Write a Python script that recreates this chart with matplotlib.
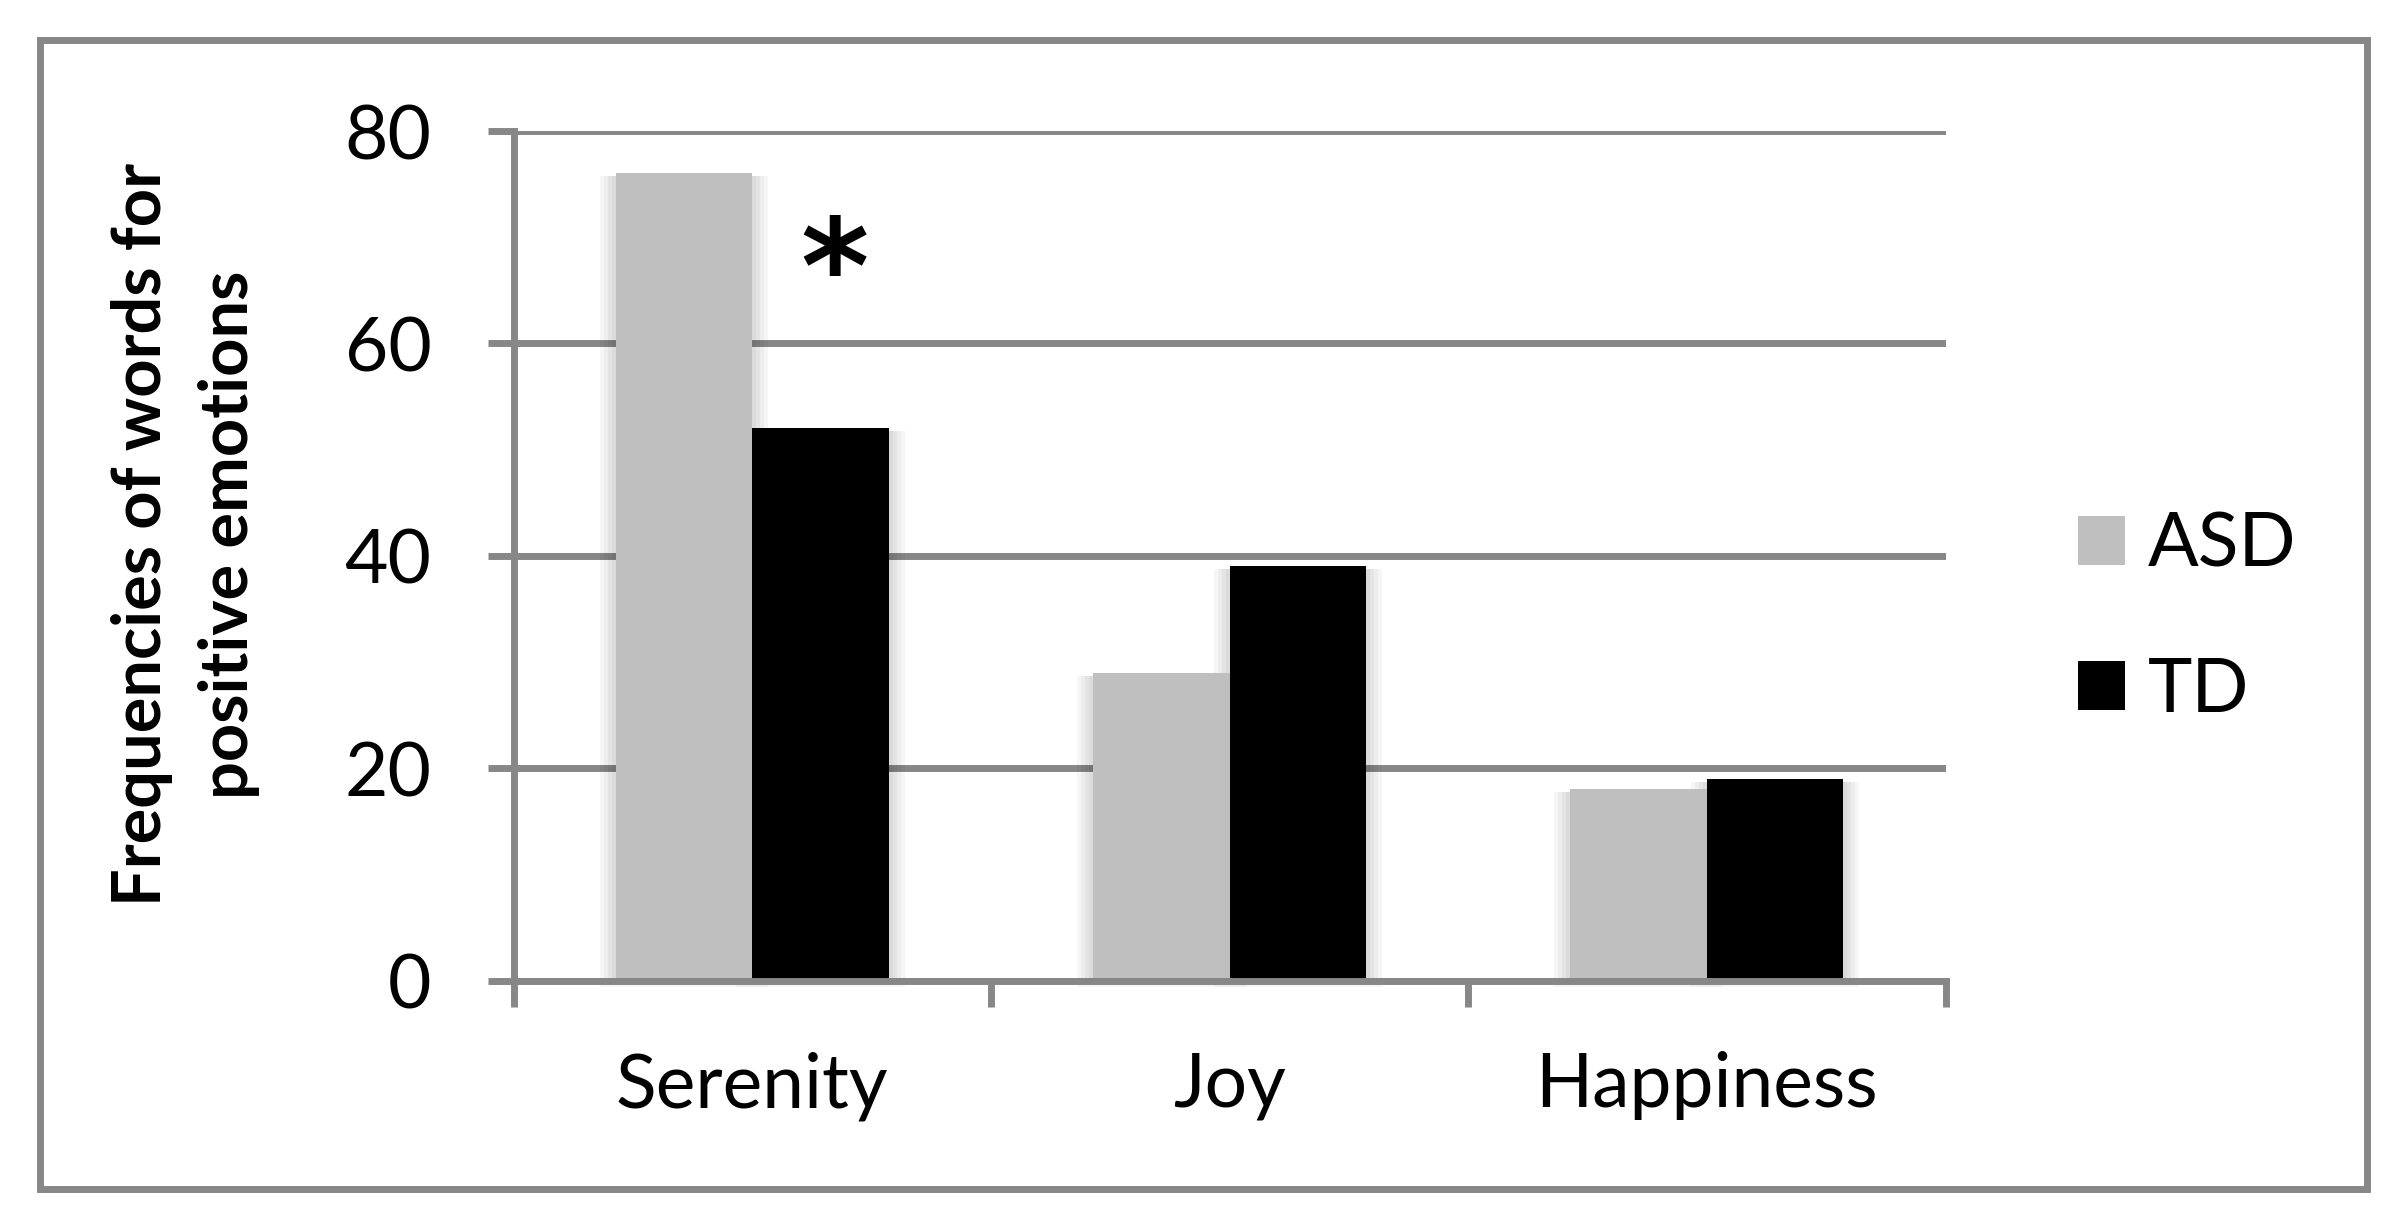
import matplotlib
matplotlib.use("Agg")
import matplotlib.pyplot as plt
from matplotlib.patches import Rectangle
import numpy as np

categories = ["Serenity", "Joy", "Happiness"]
series_names = ["ASD", "TD"]
asd_values = [76, 29, 18]
td_values = [52, 39, 19]
y_ticks = [0, 20, 40, 60, 80]
ylabel_text = "Frequencies of words for\npositive emotions"
star_text = "*"

W, H = 2406, 1222
DPI = 100
fig = plt.figure(figsize=(W / DPI, H / DPI), dpi=DPI)
fig.patch.set_facecolor("white")

GREY = "#878787"
LW = 5.0

# axes placement (pixels -> fractions)
x0, x1 = 513.5, 1945.5
y_top, y_zero = 131.0, 980.5
ax = fig.add_axes([x0 / W, 1 - y_zero / H, (x1 - x0) / W, (y_zero - y_top) / H])

x = np.arange(len(categories))
bw = 1 / 3.5  # Excel gap width 150%
colors = ["#BFBFBF", "#000000"]
offsets = [-bw / 2, bw / 2]

# soft shadows behind bars
px_x = 3.0 / (x1 - x0)   # one pixel in category units
px_y = 80.0 / (y_zero - y_top)
for vals, off in zip([asd_values, td_values], offsets):
    for k in range(1, 5):
        ax.bar(x + off, np.array(vals) - 3 * px_y + k * 1.5 * px_y,
               width=bw + 2 * k * 4 * px_x, bottom=-k * 1.5 * px_y,
               color="black", alpha=0.035, linewidth=0, zorder=2, clip_on=False)

bars = []
for vals, off, c, name in zip([asd_values, td_values], offsets, colors, series_names):
    b = ax.bar(x + off, vals, width=bw, color=c, linewidth=0, zorder=3, label=name)
    bars.append(b)

ax.set_xlim(-0.5, len(categories) - 0.5)
ax.set_ylim(0, 80)
ax.set_yticks(y_ticks)
ax.set_yticklabels([str(v) for v in y_ticks])

ax.set_xticks(np.arange(-0.5, len(categories)), minor=False)
ax.set_xticklabels([])
ax.set_xticks(x, minor=True)
ax.set_xticklabels(categories, minor=True)

for s in ["top", "right"]:
    ax.spines[s].set_visible(False)
for s in ["left", "bottom"]:
    ax.spines[s].set_color(GREY)
    ax.spines[s].set_linewidth(LW)
    ax.spines[s].set_capstyle("projecting")

ax.yaxis.grid(True, color=GREY, linewidth=LW, zorder=1)
ax.set_axisbelow(True)

FONT = "Lato"
fs = 54
ax.tick_params(axis="y", which="major", direction="out", length=19, width=LW,
               color=GREY, pad=40, labelsize=fs, labelfontfamily=FONT)
ax.tick_params(axis="x", which="major", direction="out", length=19, width=LW,
               color=GREY)
ax.tick_params(axis="x", which="minor", length=0, pad=51, labelsize=fs,
               labelfontfamily=FONT)
ax.spines["bottom"].set_zorder(4)

# significance star
ax.text(0.172, 66.3, star_text, fontsize=94, fontweight="bold",
        family="DejaVu Sans", ha="center", va="center", zorder=5)

# y label
fig.text(186 / W, 1 - 535 / H, ylabel_text, rotation=90, fontsize=48,
         fontweight="bold", family=FONT, ha="center", va="center",
         multialignment="center", linespacing=1.5)

# legend
leg = fig.legend(handles=bars, labels=series_names, loc="center left",
                 bbox_to_anchor=(2078 / W, 1 - 618 / H), frameon=False,
                 prop={"family": FONT, "size": fs}, handlelength=0.63,
                 handleheight=0.63, handletextpad=0.3, labelspacing=1.02,
                 borderpad=0, borderaxespad=0)

# outer chart border
fig.patches.append(Rectangle((39.5 / W, 1 - 1189 / H), (2366.5 - 39.5) / W,
                             (1189 - 40) / H, transform=fig.transFigure,
                             fill=False, edgecolor=GREY, linewidth=LW))

fig.savefig("out.png", dpi=DPI, facecolor="white")
